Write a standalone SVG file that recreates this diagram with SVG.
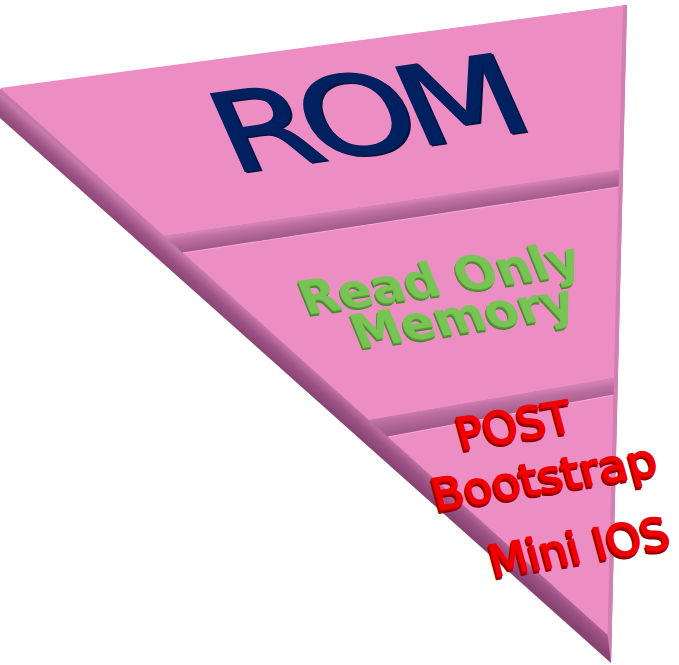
<svg xmlns="http://www.w3.org/2000/svg" width="679" height="665" viewBox="0 0 679 665">
<defs>
<linearGradient id="bevelL" gradientUnits="userSpaceOnUse" x1="300" y1="386" x2="314" y2="370">
<stop offset="0" stop-color="#874372"/>
<stop offset="0.5" stop-color="#9C5285"/>
<stop offset="0.8" stop-color="#B46699"/>
<stop offset="1" stop-color="#C479AA"/>
</linearGradient>
<linearGradient id="ledge1" gradientUnits="userSpaceOnUse" x1="400" y1="202" x2="402.5" y2="219">
<stop offset="0" stop-color="#D584B7"/>
<stop offset="0.35" stop-color="#BE6FA2"/>
<stop offset="1" stop-color="#A35A8B"/>
</linearGradient>
<linearGradient id="ledge2" gradientUnits="userSpaceOnUse" x1="500" y1="396" x2="503" y2="416">
<stop offset="0" stop-color="#D584B7"/>
<stop offset="0.35" stop-color="#BE6FA2"/>
<stop offset="1" stop-color="#A35A8B"/>
</linearGradient>
</defs>
<style>
.face{fill:#EC8EC4}
.hl{stroke:#F4A9D4;stroke-width:1.2;fill:none}
.rom{font-family:"DejaVu Sans","Liberation Sans",sans-serif;font-size:116px;text-anchor:middle;letter-spacing:-10px;stroke-width:1.6}
.grn{font-family:"DejaVu Sans","Liberation Sans",sans-serif;font-size:49px;font-weight:bold;text-anchor:middle}
.red{font-family:"DejaVu Sans","Liberation Sans",sans-serif;font-size:44px;text-anchor:middle;stroke-width:1.6}
</style>
<g id="pyramid-body">
<polygon points="-28,93 627,5 611,663" fill="url(#bevelL)"/>
<polygon points="623,5.5 627,5 611,663 607.7,635" fill="#D27FB2"/>
</g>
<g id="node-rom">
<polygon class="face" points="0,88 623,5.5 619,170 164,236"/>
<polygon points="164,236 619,170 618.6,187 183,253" fill="url(#ledge1)"/>
<g transform="matrix(1.22,-0.176,0.407,0.914,379,152)">
<text class="rom" x="1.2" y="1.5" fill="#00123A" stroke="#00123A">ROM</text>
<text class="rom" x="0" y="0" fill="#002060" stroke="#002060">ROM</text>
</g>
</g>
<g id="node-read-only-memory">
<polygon class="face" points="183,253 618.6,187 614,378 369,420"/>
<line class="hl" x1="183" y1="253" x2="618.6" y2="187"/>
<polygon points="369,420 614,378 613.5,395 388,437" fill="url(#ledge2)"/>
<g transform="matrix(0.989,-0.148,0.375,0.927,446,294)">
<text class="grn" x="-2" y="2.5" fill="#4A862C">Read Only</text>
<text class="grn" x="-1" y="1.2" fill="#5A9C38">Read Only</text>
<text class="grn" x="0" y="0" fill="#77C454">Read Only</text>
</g>
<g transform="matrix(0.989,-0.148,0.375,0.927,469,332)">
<text class="grn" x="-2" y="2.5" fill="#4A862C">Memory</text>
<text class="grn" x="-1" y="1.2" fill="#5A9C38">Memory</text>
<text class="grn" x="0" y="0" fill="#77C454">Memory</text>
</g>
</g>
<g id="node-post-bootstrap">
<polygon class="face" points="388,437 613.5,395 607.7,635"/>
<line class="hl" x1="388" y1="437" x2="613.5" y2="395"/>
<g transform="matrix(0.987,-0.163,0.259,0.966,518,440)">
<text class="red" x="-2" y="3" fill="#8E0000" stroke="#8E0000">POST</text>
<text class="red" x="-1" y="1.5" fill="#B00000" stroke="#B00000">POST</text>
<text class="red" x="0" y="0" fill="#F00000" stroke="#F00000">POST</text>
</g>
<g transform="matrix(1.045,-0.172,0.259,0.966,548,492)">
<text class="red" x="-2" y="3" fill="#8E0000" stroke="#8E0000">Bootstrap</text>
<text class="red" x="-1" y="1.5" fill="#B00000" stroke="#B00000">Bootstrap</text>
<text class="red" x="0" y="0" fill="#F00000" stroke="#F00000">Bootstrap</text>
</g>
<g transform="matrix(0.997,-0.165,0.259,0.966,583,562)">
<text class="red" x="-2" y="3" fill="#8E0000" stroke="#8E0000">Mini IOS</text>
<text class="red" x="-1" y="1.5" fill="#B00000" stroke="#B00000">Mini IOS</text>
<text class="red" x="0" y="0" fill="#F00000" stroke="#F00000">Mini IOS</text>
</g>
</g>
<g id="connectors"/>
</svg>
